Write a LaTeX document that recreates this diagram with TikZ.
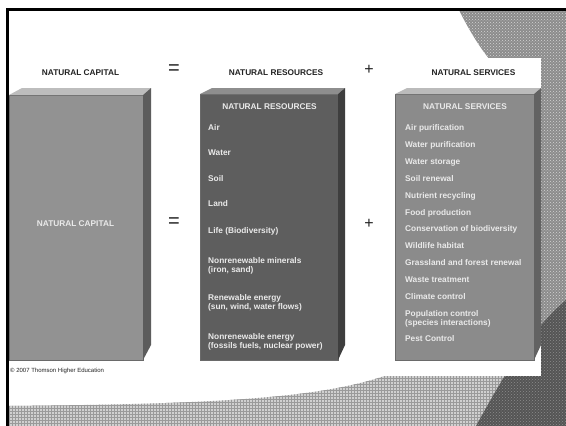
\documentclass[tikz,border=0pt]{standalone}
\usepackage{fontspec}
\setmainfont{Liberation Sans}
\usetikzlibrary{patterns,calc}

% palette
\definecolor{headink}{HTML}{222222}
\definecolor{boxink}{HTML}{EAEAEA}
\definecolor{slabedge}{HTML}{6A6A6A}
\definecolor{capfront}{HTML}{929292}
\definecolor{captop}{HTML}{BDBDBD}
\definecolor{capside}{HTML}{5C5C5C}
\definecolor{resfront}{HTML}{5E5E5E}
\definecolor{restop}{HTML}{8E8E8E}
\definecolor{resside}{HTML}{3E3E3E}
\definecolor{serfront}{HTML}{8B8B8B}
\definecolor{sertop}{HTML}{BBBBBB}
\definecolor{serside}{HTML}{626262}
\definecolor{bandbase}{HTML}{8C8C8C}
\definecolor{banddot}{HTML}{D4D4D4}
\definecolor{lightbase}{HTML}{D0D0D0}
\definecolor{lightline}{HTML}{9A9A9A}
\definecolor{darkbase}{HTML}{555555}
\definecolor{darkdot}{HTML}{8C8C8C}

\newcommand{\headfont}{\fontsize{8.3}{9}\selectfont\bfseries}
\newcommand{\entryfont}{\fontsize{8.3}{9}\selectfont\bfseries}

\begin{document}
\begin{tikzpicture}[x=1pt,y=-1pt,
  heading/.style={font=\headfont, text=headink, inner sep=0, anchor=base},
  boxtitle/.style={font=\headfont, text=boxink, inner sep=0, anchor=base},
  entry/.style={font=\entryfont, text=boxink, inner sep=0, anchor=base west, align=left},
  sign/.style={text=headink, inner sep=0},
  slab/.style={inner sep=0, outer sep=0, anchor=north west, draw=slabedge, line width=0.5pt},
]
\useasboundingbox (0,0) rectangle (566,426);
\fill[white] (0,0) rectangle (566,426);

% patterned slide background: right band, lower band, dark corner
\fill[preaction={fill=bandbase}, pattern=crosshatch dots, pattern color=banddot]
  (459,10) -- (566,10) -- (566,426) -- (470,426) -- (490,60)
  .. controls (478,45) and (468,28) .. (459,10) -- cycle;
\fill[preaction={fill=lightbase}, pattern=grid, pattern color=lightline]
  (9,406) .. controls (200,404) and (320,400) .. (390,374)
  -- (541,374) -- (541,426) -- (9,426) -- cycle;
\fill[preaction={fill=darkbase}, pattern=crosshatch dots, pattern color=darkdot]
  (476,426) .. controls (495,392) and (525,335) .. (566,300)
  -- (566,426) -- cycle;

% the figure panel
\fill[white] (9,58) rectangle (541,376);

% slide frame
\draw[line width=3pt, line join=miter] (566,9) -- (7.5,9) -- (7.5,426);

% column headings and operators
\node[heading] (hcap) at (80.5,75) {NATURAL CAPITAL};
\node[heading] (hres) at (276,75) {NATURAL RESOURCES};
\node[heading] (hser) at (473.5,75) {NATURAL SERVICES};
\node[sign, font=\fontsize{20}{20}\selectfont] (eqtop) at (174,70) {=};
\node[sign, font=\fontsize{16}{16}\selectfont] (pltop) at (369,70) {+};
\node[sign, font=\fontsize{20}{20}\selectfont] (eqmid) at (174,223) {=};
\node[sign, font=\fontsize{16}{16}\selectfont] (plmid) at (369,224) {+};

% natural capital slab
\node[slab, fill=capfront, minimum width=134pt, minimum height=265pt] (cap) at (9,95) {};
\fill[captop] (cap.north west) -- ++(13,-7) -- ($(cap.north east)+(8,-7)$) -- (cap.north east) -- cycle;
\fill[capside] (cap.north east) -- ++(8,-7) -- ($(cap.south east)+(8,-15)$) -- (cap.south east) -- cycle;
\node[boxtitle] (capt) at (75.5,226) {NATURAL CAPITAL};

% natural resources slab
\node[slab, fill=resfront, minimum width=138pt, minimum height=266pt] (res) at (200,94) {};
\fill[restop] (res.north west) -- ++(12,-6) -- ($(res.north east)+(7,-6)$) -- (res.north east) -- cycle;
\fill[resside] (res.north east) -- ++(7,-6) -- ($(res.south east)+(7,-15)$) -- (res.south east) -- cycle;
\node[boxtitle] (rest) at (269.5,109) {NATURAL RESOURCES};
\node[entry] (r1) at (208,130) {Air};
\node[entry] (r2) at (208,155) {Water};
\node[entry] (r3) at (208,181) {Soil};
\node[entry] (r4) at (208,206) {Land};
\node[entry] (r5) at (208,233) {Life (Biodiversity)};
\node[entry] (r6) at (208,272) {Nonrenewable minerals\\(iron, sand)};
\node[entry] (r7) at (208,309) {Renewable energy\\(sun, wind, water flows)};
\node[entry] (r8) at (208,348) {Nonrenewable energy\\(fossils fuels, nuclear power)};

% natural services slab
\node[slab, fill=serfront, minimum width=139pt, minimum height=266pt] (ser) at (395,94) {};
\fill[sertop] (ser.north west) -- ++(12,-6) -- ($(ser.north east)+(7,-6)$) -- (ser.north east) -- cycle;
\fill[serside] (ser.north east) -- ++(7,-6) -- ($(ser.south east)+(7,-15)$) -- (ser.south east) -- cycle;
\node[boxtitle] (sert) at (465,109) {NATURAL SERVICES};
\node[entry] (s1) at (405,130) {Air purification};
\node[entry] (s2) at (405,147) {Water purification};
\node[entry] (s3) at (405,164) {Water storage};
\node[entry] (s4) at (405,181) {Soil renewal};
\node[entry] (s5) at (405,198) {Nutrient recycling};
\node[entry] (s6) at (405,215) {Food production};
\node[entry] (s7) at (405,231) {Conservation of biodiversity};
\node[entry] (s8) at (405,248) {Wildlife habitat};
\node[entry] (s9) at (405,265) {Grassland and forest renewal};
\node[entry] (s10) at (405,282) {Waste treatment};
\node[entry] (s11) at (405,299) {Climate control};
\node[entry] (s12) at (405,325) {Population control\\(species interactions)};
\node[entry] (s13) at (405,341) {Pest Control};

% credit line
\node[font=\fontsize{6}{7}\selectfont, text=headink, inner sep=0, anchor=base west] (credit) at (10,372) {© 2007 Thomson Higher Education};
\end{tikzpicture}
\end{document}
